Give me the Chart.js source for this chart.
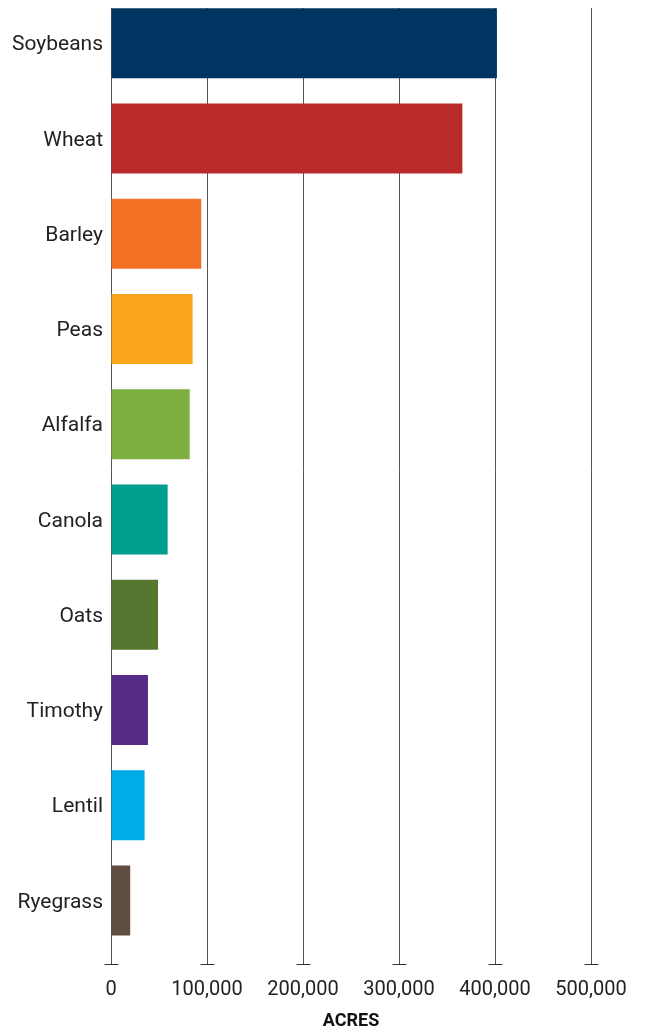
<!DOCTYPE html>
<html lang="en">
<head>
  <meta charset="UTF-8">
  <title>Acres by crop</title>
  <script src="https://cdn.jsdelivr.net/npm/chart.js@4"></script>
  <style>
    html, body {
      margin: 0;
      padding: 0;
      background: #fff;
      overflow: hidden;
    }

    /* clip the plot so gridlines begin at the top of the first bar */
    #wrap {
      position: absolute;
      left: 0;
      top: 8px;
      width: 647px;
      height: 1024px;
      overflow: hidden;
    }

    #acresChart {
      position: absolute;
      left: 0;
      top: -33px;
    }
  </style>
</head>
<body>
<div id="wrap">
  <canvas id="acresChart" width="647" height="1063"></canvas>
</div>

<script>
  const crops = ['Soybeans', 'Wheat', 'Barley', 'Peas', 'Alfalfa', 'Canola', 'Oats', 'Timothy', 'Lentil', 'Ryegrass'];
  const acres = [402000, 366000, 94000, 85000, 82000, 59000, 49000, 38500, 35000, 20000];
  const cropColors = ['#003461', '#B92B2A', '#F37124', '#F9A61B', '#7DB041', '#009E8E', '#55772F', '#552C88', '#00ACE6', '#5E4D40'];
  const xTicks = [0, 100000, 200000, 300000, 400000, 500000];
  const xTitle = 'ACRES';

  // little horizontal dash at the foot of every gridline
  const tickFeet = {
    id: 'tickFeet',
    afterDraw(chart) {
      const xs = chart.scales.x;
      const y = chart.chartArea.bottom + 16;
      const ctx = chart.ctx;
      ctx.save();
      ctx.strokeStyle = '#333';
      ctx.lineWidth = 1;
      xs.ticks.forEach(t => {
        const px = Math.round(xs.getPixelForValue(t.value)) + 0.5;
        ctx.beginPath();
        ctx.moveTo(px - 7, y + 0.5);
        ctx.lineTo(px + 7, y + 0.5);
        ctx.stroke();
      });
      ctx.restore();
    }
  };

  new Chart(document.getElementById('acresChart'), {
    type: 'bar',
    data: {
      labels: crops,
      datasets: [{
        data: acres,
        backgroundColor: cropColors,
        borderWidth: 0,
        barPercentage: 0.735,
        categoryPercentage: 1
      }]
    },
    plugins: [tickFeet],
    options: {
      indexAxis: 'y',
      responsive: false,
      animation: false,
      layout: {
        padding: { top: 0, right: 56, bottom: 8, left: 0 }
      },
      plugins: {
        legend: { display: false },
        tooltip: { enabled: false }
      },
      scales: {
        x: {
          min: 0,
          max: 500000,
          afterBuildTicks(scale) {
            scale.ticks = xTicks.map(v => ({ value: v }));
          },
          grid: {
            color: '#555',
            lineWidth: 1,
            drawTicks: true,
            tickLength: 16
          },
          border: { display: false },
          ticks: {
            color: '#222',
            padding: 14,
            maxRotation: 0,
            font: { family: 'Roboto', size: 20 },
            callback: v => Number(v).toLocaleString('en-US')
          },
          title: {
            display: true,
            text: xTitle,
            color: '#111',
            font: { family: 'Roboto', size: 18, weight: 'bold', lineHeight: 1 },
            padding: { top: -4, bottom: 0 }
          }
        },
        y: {
          grid: { display: false, drawTicks: false },
          border: { display: false },
          afterFit(scale) {
            scale.width = 111;
          },
          ticks: {
            color: '#222',
            padding: 8,
            labelOffset: 2,
            font: { family: 'Roboto', size: 21 }
          }
        }
      }
    }
  });
</script>
</body>
</html>
